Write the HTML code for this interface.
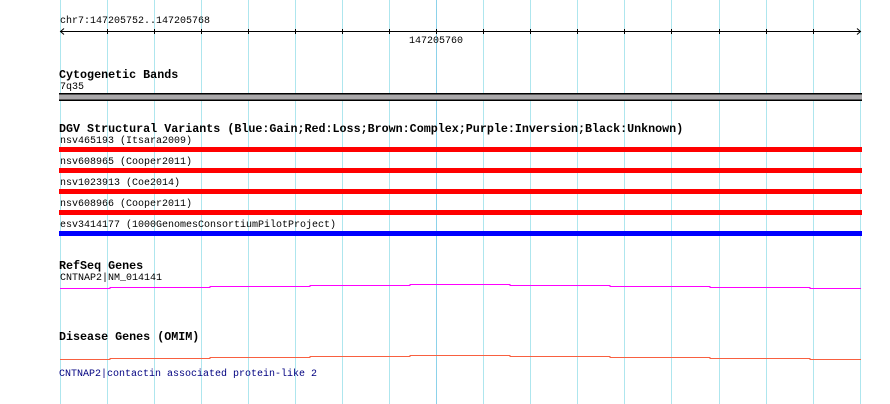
<!DOCTYPE html>
<html><head><style>
body{margin:0;background:#fff;}
#c{position:relative;width:890px;height:404px;overflow:hidden;background:#fff;font-family:"Liberation Mono","DejaVu Sans Mono",monospace;}
.t{position:absolute;font-size:10px;line-height:12px;white-space:pre;color:#000;}
.b{font-weight:bold;font-size:11.7px;}
</style></head><body><div id="c">
<svg width="890" height="404" style="position:absolute;left:0;top:0">
<g stroke="#aee6ee" stroke-width="1">
<line x1="60.5" y1="0" x2="60.5" y2="404"/><line x1="107.5" y1="0" x2="107.5" y2="404"/><line x1="154.5" y1="0" x2="154.5" y2="404"/><line x1="201.5" y1="0" x2="201.5" y2="404"/><line x1="248.5" y1="0" x2="248.5" y2="404"/><line x1="295.5" y1="0" x2="295.5" y2="404"/><line x1="342.5" y1="0" x2="342.5" y2="404"/><line x1="389.5" y1="0" x2="389.5" y2="404"/><line x1="436.5" y1="0" x2="436.5" y2="404" stroke="#8cd2ea"/><line x1="483.5" y1="0" x2="483.5" y2="404"/><line x1="530.5" y1="0" x2="530.5" y2="404"/><line x1="577.5" y1="0" x2="577.5" y2="404"/><line x1="624.5" y1="0" x2="624.5" y2="404"/><line x1="671.5" y1="0" x2="671.5" y2="404"/><line x1="719.5" y1="0" x2="719.5" y2="404"/><line x1="766.5" y1="0" x2="766.5" y2="404"/><line x1="813.5" y1="0" x2="813.5" y2="404"/><line x1="860.5" y1="0" x2="860.5" y2="404"/>
</g>
<g stroke="#000" stroke-width="1">
<line x1="60" y1="31.5" x2="861" y2="31.5"/>
<path d="M64 28.5 L60.5 31.5 L64 34.5 M857 28.5 L860.5 31.5 L857 34.5" fill="none"/>
<g><line x1="107.5" y1="29" x2="107.5" y2="34"/><line x1="154.5" y1="29" x2="154.5" y2="34"/><line x1="201.5" y1="29" x2="201.5" y2="34"/><line x1="248.5" y1="29" x2="248.5" y2="34"/><line x1="295.5" y1="29" x2="295.5" y2="34"/><line x1="342.5" y1="29" x2="342.5" y2="34"/><line x1="389.5" y1="29" x2="389.5" y2="34"/><line x1="436.5" y1="29" x2="436.5" y2="34"/><line x1="483.5" y1="29" x2="483.5" y2="34"/><line x1="530.5" y1="29" x2="530.5" y2="34"/><line x1="577.5" y1="29" x2="577.5" y2="34"/><line x1="624.5" y1="29" x2="624.5" y2="34"/><line x1="671.5" y1="29" x2="671.5" y2="34"/><line x1="719.5" y1="29" x2="719.5" y2="34"/><line x1="766.5" y1="29" x2="766.5" y2="34"/><line x1="813.5" y1="29" x2="813.5" y2="34"/></g>
</g>
<rect x="59" y="93" width="803" height="8" fill="#000"/>
<rect x="59" y="94.5" width="803" height="5" fill="#aaa8aa"/>
<rect x="59" y="147" width="803" height="5" fill="#f00"/>
<rect x="59" y="168" width="803" height="5" fill="#f00"/>
<rect x="59" y="189" width="803" height="5" fill="#f00"/>
<rect x="59" y="210" width="803" height="5" fill="#f00"/>
<rect x="59" y="231" width="803" height="5" fill="#00f"/>
<path d="M60 288.5H110V287.5H210V286.5H310V285.5H410V284.5H510V285.5H610V286.5H710V287.5H810V288.5H861" fill="none" stroke="#f0f" stroke-width="1"/>
<path d="M60 359.5H110V358.5H210V357.5H310V356.5H410V355.5H510V356.5H610V357.5H710V358.5H810V359.5H861" fill="none" stroke="#f86040" stroke-width="1"/>
</svg>
<div class="t" style="left:60px;top:16px">chr7:147205752..147205768</div>
<div class="t" style="left:409px;top:36px">147205760</div>
<div class="t b" style="left:59px;top:69px">Cytogenetic Bands</div>
<div class="t" style="left:60px;top:82px">7q35</div>
<div class="t b" style="left:59px;top:123px">DGV Structural Variants (Blue:Gain;Red:Loss;Brown:Complex;Purple:Inversion;Black:Unknown)</div>
<div class="t" style="left:60px;top:136px">nsv465193 (Itsara2009)</div>
<div class="t" style="left:60px;top:157px">nsv608965 (Cooper2011)</div>
<div class="t" style="left:60px;top:178px">nsv1023913 (Coe2014)</div>
<div class="t" style="left:60px;top:199px">nsv608966 (Cooper2011)</div>
<div class="t" style="left:60px;top:220px">esv3414177 (1000GenomesConsortiumPilotProject)</div>
<div class="t b" style="left:59px;top:260px">RefSeq Genes</div>
<div class="t" style="left:60px;top:273px">CNTNAP2|NM_014141</div>
<div class="t b" style="left:59px;top:331px">Disease Genes (OMIM)</div>
<div class="t" style="left:59px;top:369px;color:#000080">CNTNAP2|contactin associated protein-like 2</div>
</div></body></html>
